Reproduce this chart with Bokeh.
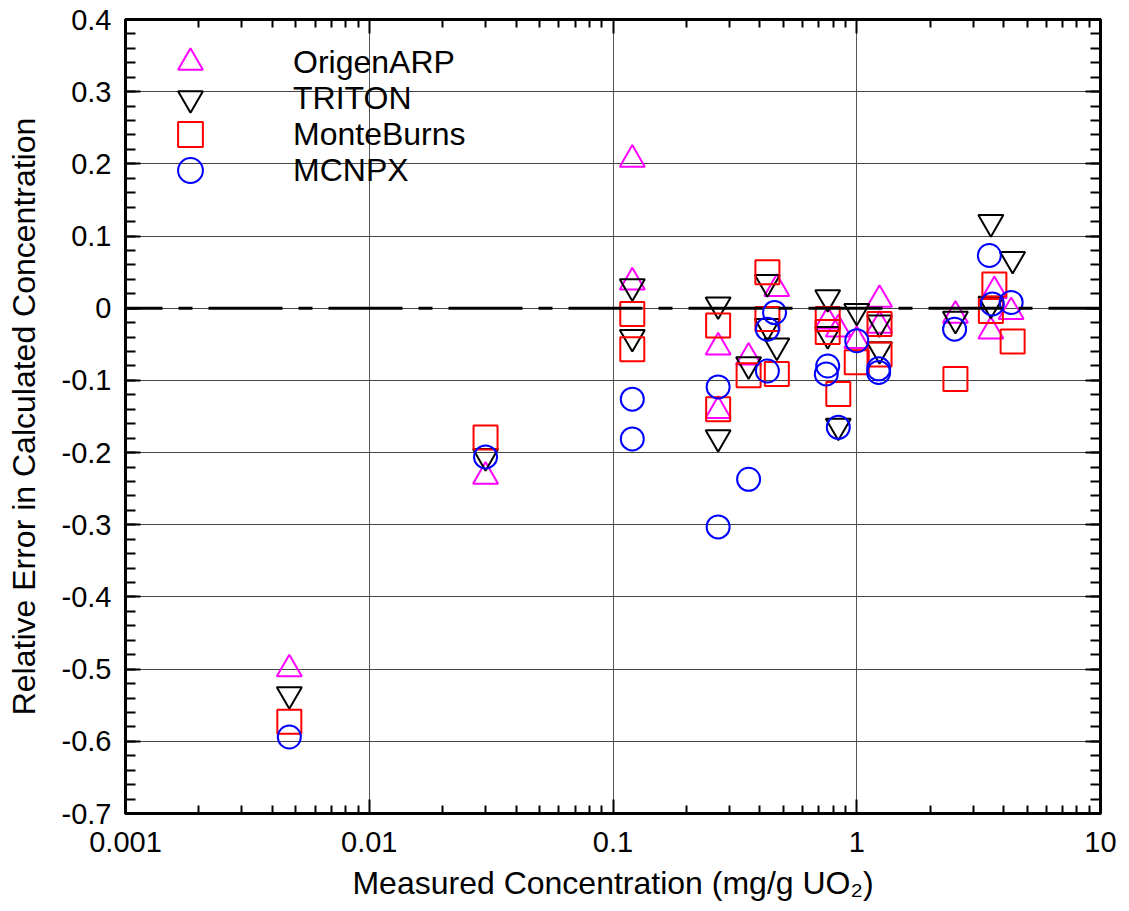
from bokeh.plotting import figure
from bokeh.models import (ColumnDataSource, FixedTicker, Span, Legend, LegendItem,
                          LogAxis, LinearAxis, CustomJSTickFormatter, Range1d)
from bokeh.embed import file_html
from bokeh.resources import INLINE

# ---- data ----
origen_x = [0.0047, 0.030, 0.12, 0.12, 0.27, 0.27, 0.36, 0.47, 0.76, 0.84, 1.0, 1.24, 1.24, 2.54, 3.67, 3.55, 4.3]
origen_y = [-0.500, -0.233, 0.206, 0.036, -0.054, -0.142, -0.068, 0.027, -0.018, -0.029, -0.045, 0.012, -0.024, -0.010, 0.024, -0.032, -0.005]

triton_x = [0.0047, 0.030, 0.12, 0.12, 0.27, 0.27, 0.36, 0.43, 0.43, 0.47, 0.76, 0.76, 0.84, 1.0, 1.24, 1.24, 2.54, 3.55, 3.55, 4.36]
triton_y = [-0.535, -0.205, 0.030, -0.040, 0.005, -0.179, -0.078, 0.036, -0.025, -0.052, 0.015, -0.036, -0.163, -0.004, -0.020, -0.057, -0.015, 0.119, 0.006, 0.068]

monte_x = [0.0047, 0.030, 0.12, 0.12, 0.27, 0.27, 0.36, 0.43, 0.43, 0.47, 0.76, 0.76, 0.84, 1.0, 1.24, 1.24, 2.54, 3.67, 3.55, 4.36]
monte_y = [-0.573, -0.179, -0.008, -0.057, -0.024, -0.140, -0.093, 0.050, -0.015, -0.091, -0.015, -0.033, -0.119, -0.075, -0.022, -0.064, -0.098, 0.033, -0.004, -0.046]

mcnpx_x = [0.0047, 0.030, 0.12, 0.12, 0.27, 0.27, 0.36, 0.43, 0.43, 0.46, 0.76, 0.75, 0.84, 1.0, 1.23, 1.23, 2.52, 3.5, 3.6, 4.3]
mcnpx_y = [-0.594, -0.206, -0.126, -0.181, -0.109, -0.303, -0.237, -0.029, -0.087, -0.006, -0.080, -0.091, -0.165, -0.045, -0.084, -0.089, -0.029, 0.073, 0.006, 0.008]

series_names = ["OrigenARP", "TRITON", "MonteBurns", "MCNPX"]

x_ticks = [0.001, 0.01, 0.1, 1, 10]
y_ticks = [-0.7, -0.6, -0.5, -0.4, -0.3, -0.2, -0.1, 0.0, 0.1, 0.2, 0.3, 0.4]

FONT = "Liberation Sans"

p = figure(x_axis_type="log", output_backend="svg", toolbar_location=None,
           frame_width=975, frame_height=794,
           min_border_left=125, min_border_top=19, min_border_right=20, min_border_bottom=92,
           x_range=Range1d(0.001, 10), y_range=Range1d(-0.7, 0.4),
           background_fill_color="white", border_fill_color="white")

p.outline_line_color = "black"
p.outline_line_width = 3

# ticks
x_minor = [m * d for d in [0.001, 0.01, 0.1, 1] for m in range(2, 10)]
y_minor = [round(-0.7 + 0.02 * i, 2) for i in range(56)]
xt = FixedTicker(ticks=x_ticks, minor_ticks=x_minor)
yt = FixedTicker(ticks=y_ticks, minor_ticks=y_minor)

xfmt = CustomJSTickFormatter(code="return String(tick);")
yfmt = CustomJSTickFormatter(code="""
const v = Math.round(tick*10)/10;
if (v === 0) return '0';
return v.toFixed(1);
""")
blank = CustomJSTickFormatter(code="return '';")

def style_axis(ax, major_in, minor_in):
    ax.axis_line_width = 3
    ax.axis_line_color = "black"
    ax.major_tick_in = major_in
    ax.major_tick_out = 0
    ax.minor_tick_in = minor_in
    ax.minor_tick_out = 0
    ax.major_tick_line_width = 2
    ax.minor_tick_line_width = 2
    ax.major_tick_line_color = "black"
    ax.minor_tick_line_color = "black"
    ax.major_label_text_font = FONT
    ax.major_label_text_font_size = "29px"
    ax.major_label_text_color = "black"
    ax.axis_label_text_font = FONT
    ax.axis_label_text_font_size = "32px"
    ax.axis_label_text_font_style = "normal"
    ax.axis_label_text_color = "black"

xa = p.xaxis[0]
xa.ticker = xt
xa.formatter = xfmt
style_axis(xa, 14, 8)
xa.major_label_standoff = 18
xa.axis_label = "Measured Concentration (mg/g UO\u2082)"
xa.axis_label_standoff = 10

ya = p.yaxis[0]
ya.ticker = yt
ya.formatter = yfmt
style_axis(ya, 15, 10)
ya.major_label_standoff = 14
ya.axis_label = "Relative Error in Calculated Concentration"
ya.axis_label_standoff = 17

top = LogAxis(ticker=xt, formatter=blank)
style_axis(top, 14, 8)
top.major_label_standoff = 0
p.add_layout(top, "above")
right = LinearAxis(ticker=yt, formatter=blank)
style_axis(right, 15, 10)
right.major_label_standoff = 0
p.add_layout(right, "right")

# grid
p.xgrid.ticker = xt
p.ygrid.ticker = yt
p.xgrid.grid_line_color = "#555555"
p.ygrid.grid_line_color = "#444444"
p.xgrid.grid_line_width = 1
p.ygrid.grid_line_width = 1

p.add_layout(Span(location=0, dimension="width", line_color="black", line_width=3,
                  line_dash="74 16 14 16", line_dash_offset=37))

# series
s_or = ColumnDataSource(dict(x=origen_x, y=origen_y))
s_tr = ColumnDataSource(dict(x=triton_x, y=triton_y))
s_mb = ColumnDataSource(dict(x=monte_x, y=monte_y))
s_mc = ColumnDataSource(dict(x=mcnpx_x, y=mcnpx_y))

r_or = p.scatter("x", "y", source=s_or, marker="triangle", size=25,
                 fill_color=None, line_color="#ff00ff", line_width=2)
r_tr = p.scatter("x", "y", source=s_tr, marker="inverted_triangle", size=25,
                 fill_color=None, line_color="black", line_width=2)
r_mb = p.scatter("x", "y", source=s_mb, marker="square", size=24,
                 fill_color=None, line_color="#ff0000", line_width=2)
r_mc = p.scatter("x", "y", source=s_mc, marker="circle", size=23,
                 fill_color=None, line_color="#0000ff", line_width=2)

# one legend per entry so the legend symbols can be as large as the plot's markers
renderers = [r_or, r_tr, r_mb, r_mc]
row_pitch = 36
for i, (name, r) in enumerate(zip(series_names, renderers)):
    center_from_top = 43 + row_pitch * i
    lg = Legend(items=[LegendItem(label=name, renderers=[r])],
                location=(34, 794 - (center_from_top + 31)))
    lg.border_line_color = None
    lg.background_fill_alpha = 0
    lg.label_text_font = FONT
    lg.label_text_font_size = "32px"
    lg.label_text_color = "black"
    lg.glyph_width = 62
    lg.glyph_height = 62
    lg.label_height = 62
    lg.label_standoff = 72
    lg.padding = 0
    lg.margin = 0
    p.add_layout(lg)

open("out.html", "w").write(file_html(p, INLINE))
